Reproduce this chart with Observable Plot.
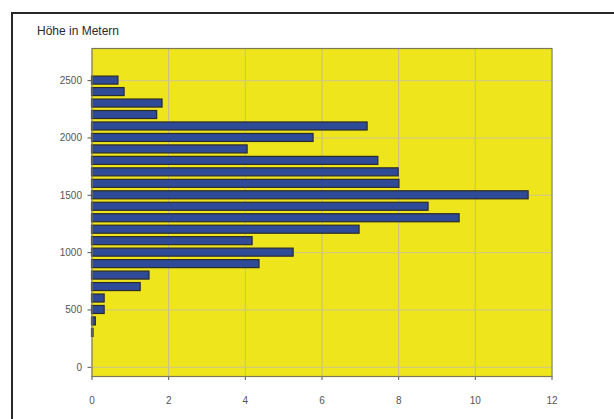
<!DOCTYPE html>
<html>
<head>
<meta charset="utf-8">
<script src="https://cdn.jsdelivr.net/npm/d3@7"></script>
<script src="https://cdn.jsdelivr.net/npm/@observablehq/plot@0.6"></script>
<style>
  html, body { margin: 0; padding: 0; background: #fff; overflow: hidden; }
  #wrap { position: relative; width: 614px; height: 419px; }
  #box {
    position: absolute; left: 11px; top: 12px; width: 700px; height: 500px;
    border-left: 2px solid #262626; border-top: 2px solid #262626;
  }
  #title {
    position: absolute; left: 37px; top: 24px;
    font: 12px "Liberation Sans", Arial, sans-serif; color: #2a2a2a;
  }
  #chart { position: absolute; left: 0; top: 0; }
</style>
</head>
<body>
<div id="wrap">
  <div id="box"></div>
  <div id="title">Höhe in Metern</div>
  <div id="chart"></div>
</div>
<script>
// Elevation bands (m) and their share (%)
const elevations = [2500, 2400, 2300, 2200, 2100, 2000, 1900, 1800, 1700, 1600, 1500, 1400,
                    1300, 1200, 1100, 1000, 900, 800, 700, 600, 500, 400, 300];
const shares = [0.69, 0.85, 1.84, 1.7, 7.19, 5.78, 4.06, 7.47, 8.0, 8.02, 11.39, 8.78,
                9.59, 6.98, 4.19, 5.26, 4.37, 1.5, 1.27, 0.33, 0.33, 0.1, 0.04];
const xTicks = [0, 2, 4, 6, 8, 10, 12];
const yTicks = [0, 500, 1000, 1500, 2000, 2500];

const data = elevations.map((h, i) => ({h, v: shares[i]}));
const half = 35;

const chart = Plot.plot({
  width: 614,
  height: 419,
  marginLeft: 91.5,
  marginRight: 62.5,
  marginTop: 48,
  marginBottom: 43,
  style: {background: "transparent", fontFamily: "'Liberation Sans', Arial, sans-serif", fontSize: "10px", color: "#555"},
  x: {domain: [0, 12], ticks: xTicks, label: null, tickSize: 4, tickPadding: 16, tickFormat: d => String(d)},
  y: {domain: [-80, 2780], ticks: yTicks, label: null, tickSize: 4, tickPadding: 6, tickFormat: d => String(d)},
  marks: [
    Plot.rect([0], {x1: 0, x2: 12, y1: -80, y2: 2780, fill: "#efe51c"}),
    Plot.ruleX(xTicks.slice(1, -1), {stroke: "#c2bc98", strokeWidth: 1}),
    Plot.ruleY(yTicks, {stroke: "#cfc68e", strokeWidth: 1}),
    Plot.rectX(data, {y1: d => d.h - half, y2: d => d.h + half, x1: 0, x2: "v",
                      fill: "#2f4b98", stroke: "#2b2b2b", strokeWidth: 1.2}),
    Plot.frame({stroke: "#7c7a55", strokeWidth: 1.2})
  ]
});
document.getElementById("chart").appendChild(chart);
</script>
</body>
</html>
